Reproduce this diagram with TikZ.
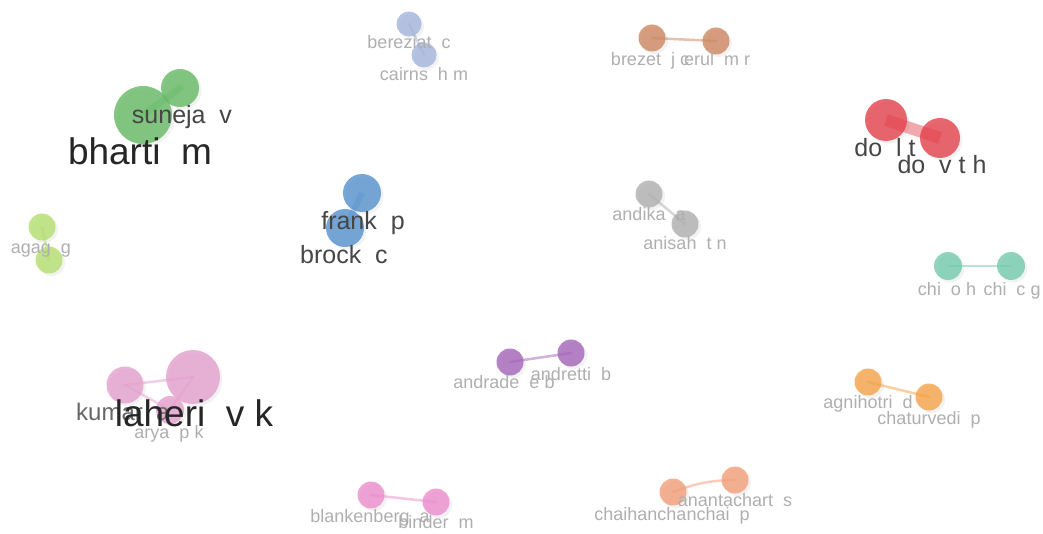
\documentclass[tikz,border=0pt]{standalone}
\usepackage{fontspec}
\setmainfont{Liberation Sans}
\usetikzlibrary{shadows}
\definecolor{cgreen}{RGB}{100,185,100}
\definecolor{cbgray}{RGB}{165,180,220}
\definecolor{cbrown}{RGB}{205,135,95}
\definecolor{cred}{RGB}{228,65,75}
\definecolor{clgreen}{RGB}{180,222,110}
\definecolor{cblue}{RGB}{85,145,205}
\definecolor{cgray}{RGB}{175,175,175}
\definecolor{cteal}{RGB}{115,203,172}
\definecolor{cpink}{RGB}{228,160,205}
\definecolor{cpurple}{RGB}{165,100,185}
\definecolor{corange}{RGB}{246,162,72}
\definecolor{cpink2}{RGB}{236,140,205}
\definecolor{csalmon}{RGB}{242,158,120}
\definecolor{tsmall}{RGB}{175,175,175}
\definecolor{tmid}{RGB}{70,70,70}
\tikzset{
  bub/.style={circle, inner sep=0pt, fill=#1, fill opacity=0.8,
    drop shadow={opacity=0.1, shadow xshift=2.5pt, shadow yshift=-2.5pt}},
  lnk/.style={draw=#1, draw opacity=0.5, line width=2.5pt, line cap=round},
  lsmall/.style={anchor=base, text=tsmall, font=\fontsize{18}{18}\selectfont, inner sep=0pt},
  lmid/.style={anchor=base, text=tmid, font=\fontsize{25}{25}\selectfont, inner sep=0pt},
  lbig/.style={anchor=base, text=black!85, font=\fontsize{37}{37}\selectfont, inner sep=0pt}
}
\begin{document}
\begin{tikzpicture}[x=1pt,y=-1pt]
\useasboundingbox (0,0) rectangle (1043,534);
\fill[white] (0,0) rectangle (1043,534);
% green
\node[bub=cgreen, minimum size=58pt] (bharti) at (143,115) {};
\node[bub=cgreen, minimum size=38pt] (suneja) at (180,88) {};
\draw[lnk=cgreen, line width=7pt, draw opacity=0.35] (bharti.center) -- (suneja.center);
% blue-gray
\node[bub=cbgray, minimum size=25pt] (bereziat) at (409,24) {};
\node[bub=cbgray, minimum size=25pt] (cairns) at (424,55) {};
\draw[lnk=cbgray] (bereziat.center) -- (cairns.center);
% brown
\node[bub=cbrown, minimum size=27pt] (brezet) at (652,38) {};
\node[bub=cbrown, minimum size=27pt] (erul) at (716,41) {};
\draw[lnk=cbrown] (brezet.center) -- (erul.center);
% red
\node[bub=cred, minimum size=42pt] (dolt) at (886,120) {};
\node[bub=cred, minimum size=40pt] (dovth) at (940,138) {};
\draw[lnk=cred, line width=12pt, line cap=butt, draw opacity=0.45] (dolt.center) -- (dovth.center);
% light green
\node[bub=clgreen, minimum size=27pt] (agag) at (42,227) {};
\node[bub=clgreen, minimum size=27pt] (agag2) at (49,260) {};
\draw[lnk=clgreen] (agag.center) -- (agag2.center);
% blue
\node[bub=cblue, minimum size=38pt] (frank) at (362,193) {};
\node[bub=cblue, minimum size=38pt] (brock) at (345,228) {};
\draw[lnk=cblue, line width=6pt, line cap=butt, draw opacity=0.35] (frank.center) -- (brock.center);
% gray
\node[bub=cgray, minimum size=27pt] (andika) at (649,194) {};
\node[bub=cgray, minimum size=27pt] (anisah) at (685,224) {};
\draw[lnk=cgray] (andika.center) -- (anisah.center);
% teal
\node[bub=cteal, minimum size=28pt] (chioh) at (948,266) {};
\node[bub=cteal, minimum size=28pt] (chicg) at (1011,266) {};
\draw[lnk=cteal] (chioh.center) -- (chicg.center);
% pink
\node[bub=cpink, minimum size=54pt] (laheri) at (193,377) {};
\node[bub=cpink, minimum size=37pt] (kumar) at (125,385) {};
\node[bub=cpink, minimum size=28pt] (arya) at (170,410) {};
\draw[lnk=cpink] (kumar.center) -- (laheri.center);
\draw[lnk=cpink] (kumar.center) -- (arya.center);
\draw[lnk=cpink] (arya.center) -- (laheri.center);
% purple
\node[bub=cpurple, minimum size=27pt] (andrade) at (510,362) {};
\node[bub=cpurple, minimum size=27pt] (andretti) at (571,353) {};
\draw[lnk=cpurple] (andrade.center) -- (andretti.center);
% orange
\node[bub=corange, minimum size=27pt] (agnihotri) at (868,382) {};
\node[bub=corange, minimum size=27pt] (chaturvedi) at (929,397) {};
\draw[lnk=corange] (agnihotri.center) -- (chaturvedi.center);
% pink2
\node[bub=cpink2, minimum size=27pt] (blankenberg) at (371,495) {};
\node[bub=cpink2, minimum size=27pt] (binder) at (436,502) {};
\draw[lnk=cpink2] (blankenberg.center) -- (binder.center);
% salmon
\node[bub=csalmon, minimum size=27pt] (chaihan) at (673,492) {};
\node[bub=csalmon, minimum size=27pt] (anantachart) at (735,480) {};
\draw[lnk=csalmon] (chaihan.center) to[bend left=10] (anantachart.center);
% labels
\node[lmid] (Lsuneja) at (182,124) {suneja\ \ v};
\node[lbig] (Lbharti) at (140,165) {bharti\ \ m};
\node[lsmall] (Lbereziat) at (409,49) {bereziat\ \ c};
\node[lsmall] (Lcairns) at (424,81) {cairns\ \ h m};
\node[lsmall] (Lbrezet) at (650,66) {brezet\ \ j c};
\node[lsmall] (Lerul) at (717,66) {erul\ \ m r};
\node[lmid] (Ldolt) at (885,157) {do\ \ l t};
\node[lmid] (Ldovth) at (942,174) {do\ \ v t h};
\node[lsmall] (Lagag) at (41,254) {agag\ \ g};
\node[lmid] (Lfrank) at (363,230) {frank\ \ p};
\node[lmid] (Lbrock) at (344,264) {brock\ \ c};
\node[lsmall] (Landika) at (649,221) {andika\ \ a};
\node[lsmall] (Lanisah) at (685,250) {anisah\ \ t n};
\node[lsmall] (Lchioh) at (947,295) {chi\ \ o h};
\node[lsmall] (Lchicg) at (1012,295) {chi\ \ c g};
\node[lsmall, anchor=base west, text=black!60, font=\fontsize{24}{24}\selectfont] (Lkumar) at (76,420) {kumar\ \ a};
\node[lsmall] (Larya) at (169,438) {arya\ \ p k};
\node[lbig] (Llaheri) at (194,426) {laheri\ \ v k};
\node[lsmall] (Landrade) at (504,388) {andrade\ \ e b};
\node[lsmall] (Landretti) at (571,380) {andretti\ \ b};
\node[lsmall] (Lagnihotri) at (868,408) {agnihotri\ \ d};
\node[lsmall] (Lchaturvedi) at (929,424) {chaturvedi\ \ p};
\node[lsmall] (Lblankenberg) at (370,522) {blankenberg\ \ a};
\node[lsmall] (Lbinder) at (436,528) {binder\ \ m};
\node[lsmall] (Lchaihan) at (672,520) {chaihanchanchai\ \ p};
\node[lsmall] (Lanantachart) at (735,506) {anantachart\ \ s};
\end{tikzpicture}
\end{document}
